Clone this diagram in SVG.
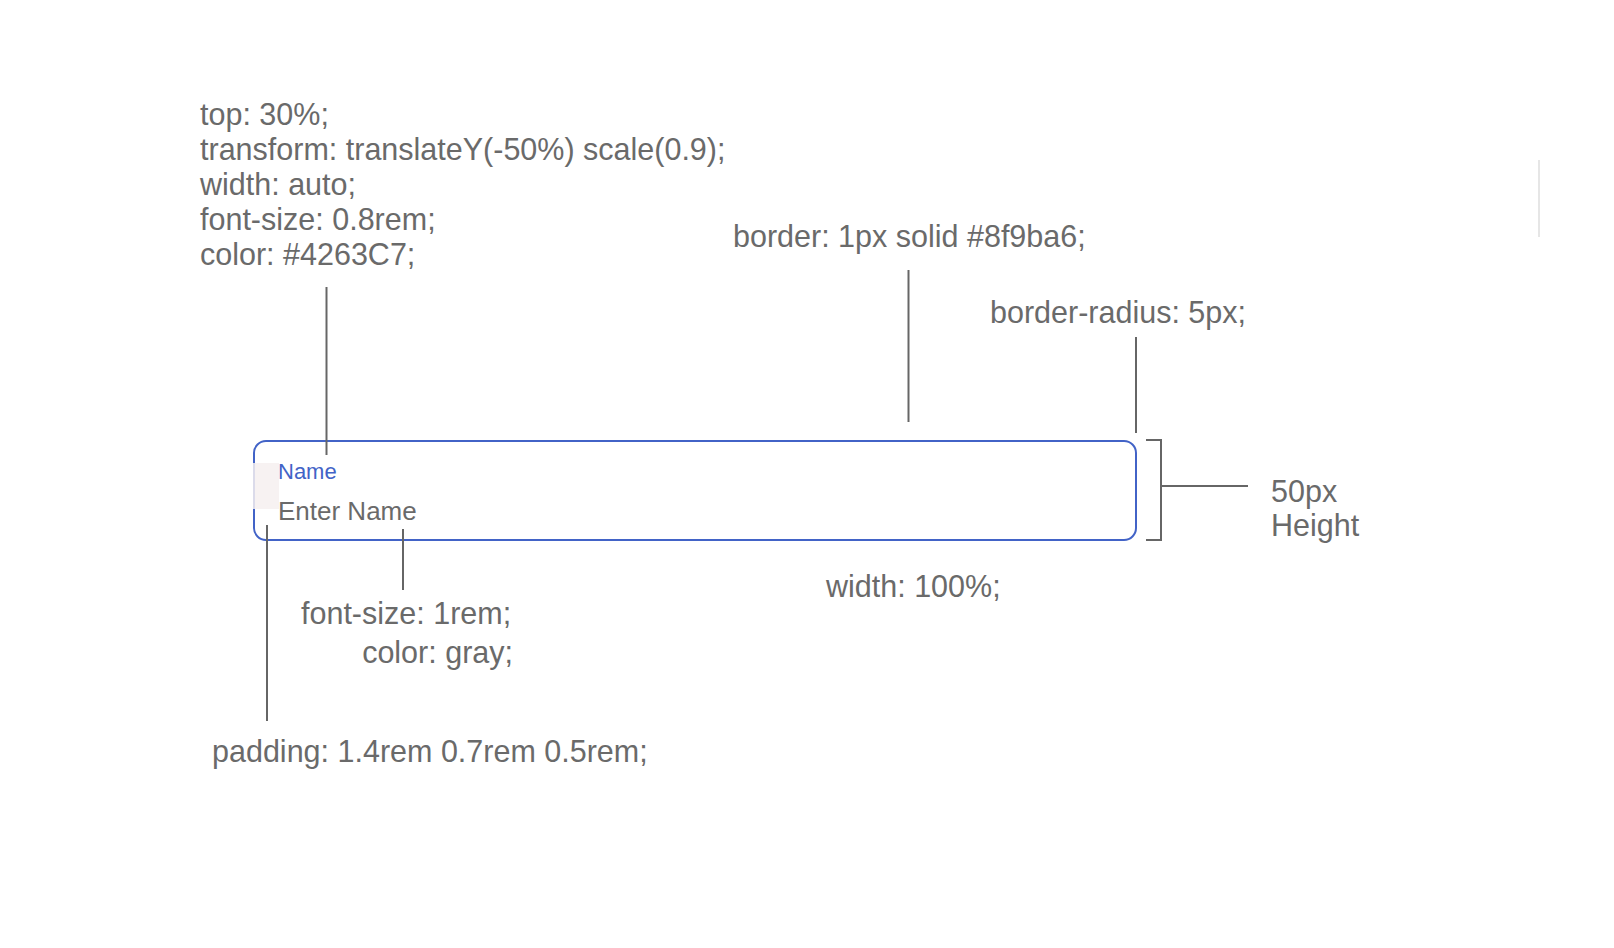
<svg xmlns="http://www.w3.org/2000/svg" width="1614" height="948" viewBox="0 0 1614 948">
<style>
.t{font-family:"Liberation Sans",Arial,sans-serif;font-size:30.5px;fill:#6a6a6a}
.c{stroke:#666;stroke-width:2;fill:none}
</style>
<rect width="1614" height="948" fill="#fff"/>
<line x1="1539" y1="160" x2="1539" y2="237" stroke="#e6e6e6" stroke-width="2"/>
<g id="input">
<rect x="254" y="441" width="882" height="99" rx="12" fill="none" stroke="#4263C7" stroke-width="2"/>
<rect x="253" y="463" width="26" height="46" fill="#f6f0f0" opacity="0.85"/>
<text x="278" y="478.5" style="font-family:'Liberation Sans',Arial,sans-serif;font-size:22px;fill:#4263C7">Name</text>
<text x="278" y="520" style="font-family:'Liberation Sans',Arial,sans-serif;font-size:26px;fill:#6a6a6a">Enter Name</text>
</g>
<g id="connectors">
<line class="c" x1="326.5" y1="287" x2="326.5" y2="455"/>
<line class="c" x1="908.5" y1="270" x2="908.5" y2="422"/>
<line class="c" x1="1136" y1="337" x2="1136" y2="433"/>
<line class="c" x1="403" y1="529" x2="403" y2="590"/>
<line class="c" x1="267" y1="525" x2="267" y2="721"/>
<polyline class="c" points="1146,440 1161,440 1161,540 1146,540"/>
<line class="c" x1="1161" y1="486" x2="1248" y2="486"/>
</g>
<g id="label-top">
<text class="t" x="200" y="124.5">top: 30%;</text>
<text class="t" x="200" y="159.5">transform: translateY(-50%) scale(0.9);</text>
<text class="t" x="200" y="194.5">width: auto;</text>
<text class="t" x="200" y="229.5">font-size: 0.8rem;</text>
<text class="t" x="200" y="264.5">color: #4263C7;</text>
</g>
<g id="label-border"><text class="t" x="733" y="246.5">border: 1px solid #8f9ba6;</text></g>
<g id="label-radius"><text class="t" x="990" y="322.5">border-radius: 5px;</text></g>
<g id="label-height">
<text class="t" x="1271" y="502">50px</text>
<text class="t" x="1271" y="536">Height</text>
</g>
<g id="label-width"><text class="t" x="826" y="596.5">width: 100%;</text></g>
<g id="label-font">
<text class="t" x="301" y="623.5">font-size: 1rem;</text>
<text class="t" x="513" y="662.5" text-anchor="end">color: gray;</text>
</g>
<g id="label-padding"><text class="t" x="212" y="761.5">padding: 1.4rem 0.7rem 0.5rem;</text></g>
</svg>
